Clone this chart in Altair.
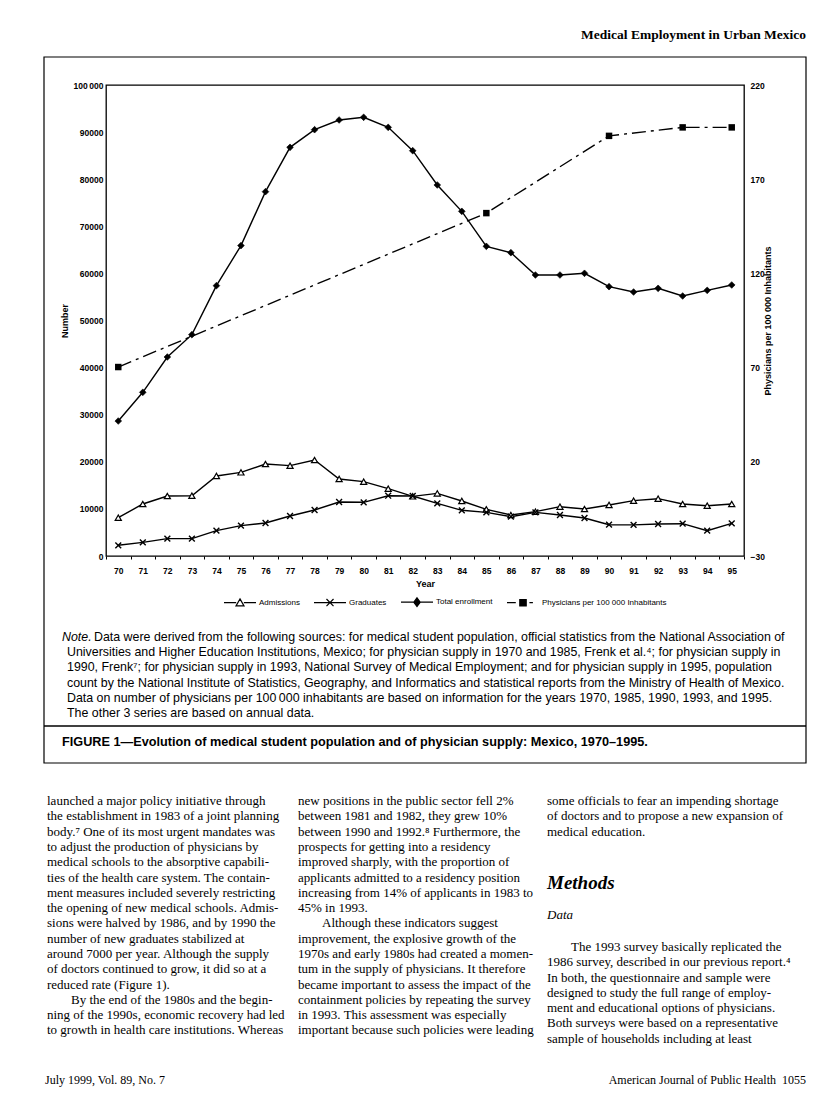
import altair as alt
import pandas as pd

# ---------------- data ----------------
YEARS = [str(y) for y in range(70, 96)]
ADMISSIONS = [8130, 11040, 12740, 12800, 16990, 17760, 19530, 19180, 20380, 16350,
              15780, 14290, 12670, 13300, 11680, 9910, 8700, 9410, 10470, 9980,
              10830, 11750, 12170, 11040, 10680, 11040]
GRADUATES = [2270, 2900, 3680, 3680, 5380, 6440, 7000, 8490, 9770, 11460,
             11400, 12800, 12740, 11180, 9700, 9270, 8350, 9270, 8700, 8070,
             6650, 6600, 6790, 6860, 5380, 6940]
ENROLLMENT = [28660, 34750, 42250, 46990, 57400, 65900, 77350, 86770, 90510, 92570,
              93140, 91010, 86050, 78770, 73180, 65750, 64400, 59660, 59660, 60020,
              57180, 56050, 56830, 55200, 56400, 57540]
PHYS_YEARS = ["70", "85", "90", "93", "95"]
PHYSICIANS = [70.3, 152, 193, 197.5, 197.5]
SERIES = ["Admissions", "Graduates", "Total enrollment",
          "Physicians per 100 000 Inhabitants"]
LEFT_TICKS = [0, 10000, 20000, 30000, 40000, 50000, 60000, 70000, 80000, 90000, 100000]
RIGHT_TICKS = [-30, 20, 70, 120, 170, 220]

HEADER = "Medical Employment in Urban Mexico"
NOTE_LEAD = "Note."
NOTE_FIRST = ("Data were derived from the following sources: for medical student population, "
              "official statistics from the National Association of")
NOTE_REST = [
    "Universities and Higher Education Institutions, Mexico; for physician supply in 1970 and 1985, Frenk et al.\u2074; for physician supply in",
    "1990, Frenk\u2077; for physician supply in 1993, National Survey of Medical Employment; and for physician supply in 1995, population",
    "count by the National Institute of Statistics, Geography, and Informatics and statistical reports from the Ministry of Health of Mexico.",
    "Data on number of physicians per 100\u2009000 inhabitants are based on information for the years 1970, 1985, 1990, 1993, and 1995.",
    "The other 3 series are based on annual data.",
]
CAPTION = "FIGURE 1\u2014Evolution of medical student population and of physician supply: Mexico, 1970\u20131995."

COL1_A = [
    "launched a major policy initiative through",
    "the establishment in 1983 of a joint planning",
    "body.\u2077 One of its most urgent mandates was",
    "to adjust the production of physicians by",
    "medical schools to the absorptive capabili-",
    "ties of the health care system. The contain-",
    "ment measures included severely restricting",
    "the opening of new medical schools. Admis-",
    "sions were halved by 1986, and by 1990 the",
    "number of new graduates stabilized at",
    "around 7000 per year. Although the supply",
    "of doctors continued to grow, it did so at a",
    "reduced rate (Figure 1).",
]
COL1_B_FIRST = "By the end of the 1980s and the begin-"
COL1_B = [
    "ning of the 1990s, economic recovery had led",
    "to growth in health care institutions. Whereas",
]
COL2_A = [
    "new positions in the public sector fell 2%",
    "between 1981 and 1982, they grew 10%",
    "between 1990 and 1992.\u2078 Furthermore, the",
    "prospects for getting into a residency",
    "improved sharply, with the proportion of",
    "applicants admitted to a residency position",
    "increasing from 14% of applicants in 1983 to",
    "45% in 1993.",
]
COL2_B_FIRST = "Although these indicators suggest"
COL2_B = [
    "improvement, the explosive growth of the",
    "1970s and early 1980s had created a momen-",
    "tum in the supply of physicians. It therefore",
    "became important to assess the impact of the",
    "containment policies by repeating the survey",
    "in 1993. This assessment was especially",
    "important because such policies were leading",
]
COL3_A = [
    "some officials to fear an impending shortage",
    "of doctors and to propose a new expansion of",
    "medical education.",
]
COL3_HEAD = "Methods"
COL3_SUB = "Data"
COL3_B_FIRST = "The 1993 survey basically replicated the"
COL3_B = [
    "1986 survey, described in our previous report.\u2074",
    "In both, the questionnaire and sample were",
    "designed to study the full range of employ-",
    "ment and educational options of physicians.",
    "Both surveys were based on a representative",
    "sample of households including at least",
]
FOOT_LEFT = "July 1999, Vol. 89, No. 7"
FOOT_RIGHT = "American Journal of Public Health"
FOOT_PAGE = "1055"

# ---------------- styling ----------------
SANS = "Liberation Sans"
SERIF = "Liberation Serif"
PW, PH = 638, 471
OX, OY = 106, 85  # plot origin on page

X_PATH = "M-1,-1L1,1M-1,1L1,-1"
LEG_PATHS = [
    "M-1,0H-0.24M0.24,0H1M0,-0.24L0.25,0.2L-0.25,0.2Z",
    "M-1,0H1M-0.22,-0.22L0.22,0.22M-0.22,0.22L0.22,-0.22",
    "M-1,0H1M0,-0.27L0.2,0L0,0.27L-0.2,0Z",
    "M-1,0H-0.45M-0.2,-0.2H0.2V0.2H-0.2ZM0.4,0H0.62",
]

left_df = pd.DataFrame({
    "year": YEARS * 3,
    "value": ADMISSIONS + GRADUATES + ENROLLMENT,
    "series": [SERIES[0]] * len(YEARS) + [SERIES[1]] * len(YEARS) + [SERIES[2]] * len(YEARS),
})
phys_df = pd.DataFrame({"year": PHYS_YEARS, "value": PHYSICIANS, "series": SERIES[3]})
legend_df = pd.DataFrame({"year": [YEARS[0]] * 4, "value": [-1e7] * 4, "series": SERIES})

x_enc = alt.X(
    "year:O",
    scale=alt.Scale(type="band", domain=YEARS, paddingInner=0, paddingOuter=0),
    axis=alt.Axis(title="Year", labelAngle=0, labelPadding=7, tickBand="extent",
                  tickSize=3, ticks=True, labelFontSize=8.5, labelFontWeight="bold",
                  titleFontSize=9, titleFontWeight="bold", titlePadding=5),
)
y_left = alt.Y(
    "value:Q",
    scale=alt.Scale(domain=[0, 100000], nice=False, zero=False),
    axis=alt.Axis(title="Number", values=LEFT_TICKS, ticks=False, labelPadding=3,
                  labelExpr="datum.value >= 100000 ? '100\u2009000' : format(datum.value, 'd')",
                  labelFontSize=8.5, labelFontWeight="bold", titleFontSize=9,
                  titleFontWeight="bold", titlePadding=3),
)
y_right = alt.Y(
    "value:Q",
    scale=alt.Scale(domain=[-30, 220], nice=False, zero=False),
    axis=alt.Axis(orient="right", title=SERIES[3], values=RIGHT_TICKS, ticks=False,
                  labelPadding=6, labelFontSize=8.5, labelFontWeight="bold",
                  titleFontSize=9, titleFontWeight="bold", titleAngle=270,
                  titlePadding=8),
)

lines = alt.Chart(left_df).mark_line(color="black", strokeWidth=1.4).encode(
    x=x_enc, y=y_left, detail="series:N")


def markers(name, **kw):
    return alt.Chart(left_df).transform_filter(alt.datum.series == name).mark_point(
        opacity=1, stroke="black", **kw).encode(x=x_enc, y=y_left)


pts_adm = markers(SERIES[0], shape="triangle-up", size=38, filled=True, fill="white", strokeWidth=1.2)
pts_grad = markers(SERIES[1], shape=X_PATH, size=34, strokeWidth=1.4)
pts_enr = markers(SERIES[2], shape="diamond", size=45, filled=True, fill="black", strokeWidth=0.6)

leg = alt.Legend(orient="none", legendX=117, legendY=500, direction="horizontal", title=None,
                 symbolSize=1024, symbolStrokeWidth=1.2, symbolStrokeColor="black",
                 symbolOpacity=1, labelFont=SANS, labelFontSize=8, labelColor="black",
                 labelOffset=2, columnPadding=11)
legend_layer = alt.Chart(legend_df).mark_point(size=1024, clip=True, strokeWidth=1.2,
                                                opacity=1).encode(
    x=x_enc, y=y_left,
    shape=alt.Shape("series:N", scale=alt.Scale(domain=SERIES, range=LEG_PATHS), legend=leg),
    fill=alt.Fill("series:N", scale=alt.Scale(domain=SERIES, range=["white", "white", "black", "black"]), legend=leg),
    stroke=alt.Stroke("series:N", scale=alt.Scale(domain=SERIES, range=["black", "black", "black", "black"]), legend=leg),
)

phys_line = alt.Chart(phys_df).mark_line(color="black", strokeWidth=1.4,
                                         strokeDash=[14, 5, 3, 5]).encode(x=x_enc, y=y_right)
phys_pts = alt.Chart(phys_df).mark_point(shape="square", size=42, filled=True, color="black",
                                        opacity=1).encode(x=x_enc, y=y_right)

left_layer = alt.layer(lines, pts_adm, pts_grad, pts_enr, legend_layer)
right_layer = alt.layer(phys_line, phys_pts)

BLANK = alt.Data(values=[{}])


def txt(text, x, y, size=13, font=SERIF, weight="normal", style="normal", align="left", lh=15.3):
    return alt.Chart(BLANK).mark_text(
        text=text, font=font, fontSize=size, fontWeight=weight, fontStyle=style,
        align=align, baseline="alphabetic", lineHeight=lh, color="black",
    ).encode(x=alt.value(x - OX), y=alt.value(y - OY))


box = alt.Chart(BLANK).mark_rect(fillOpacity=0, stroke="black", strokeWidth=1.2).encode(
    x=alt.value(44 - OX), x2=alt.value(806 - OX), y=alt.value(57 - OY), y2=alt.value(763 - OY))
rule = alt.Chart(BLANK).mark_rule(color="black", strokeWidth=1.5).encode(
    x=alt.value(44 - OX), x2=alt.value(806 - OX), y=alt.value(726 - OY))

deco = [
    box, rule,
    txt(HEADER, 806, 39, size=13.5, weight="bold", align="right"),
    txt(NOTE_LEAD, 62, 641, size=12.4, font=SANS, style="italic"),
    txt(NOTE_FIRST, 94, 641, size=12.4, font=SANS),
    txt(NOTE_REST, 67, 656.2, size=12.4, font=SANS, lh=15.2),
    txt(CAPTION, 62, 746, size=12.7, font=SANS, weight="bold"),
    txt(COL1_A, 47, 805),
    txt(COL1_B_FIRST, 71, 805 + 13 * 15.3),
    txt(COL1_B, 47, 805 + 14 * 15.3),
    txt(COL2_A, 298, 805),
    txt(COL2_B_FIRST, 322, 805 + 8 * 15.3),
    txt(COL2_B, 298, 805 + 9 * 15.3),
    txt(COL3_A, 547, 805),
    txt(COL3_HEAD, 547, 889, size=19, weight="bold", style="italic"),
    txt(COL3_SUB, 547, 919, style="italic"),
    txt(COL3_B_FIRST, 571, 951),
    txt(COL3_B, 547, 951 + 15.3),
    txt(FOOT_LEFT, 45, 1084, size=12),
    txt(FOOT_RIGHT, 776, 1084, size=12, align="right"),
    txt(FOOT_PAGE, 806, 1084, size=12, align="right"),
]

chart = alt.layer(left_layer, right_layer, *deco).resolve_scale(y="independent").properties(
    width=PW, height=PH,
    padding={"left": OX - 8, "top": OY - 8, "right": 800 - (OX - 8) - PW, "bottom": 1090 - (OY - 8) - PH},
    autosize=alt.AutoSizeParams(type="none"),
    background="white",
).configure_view(stroke="black", strokeWidth=1.3).configure_axis(
    labelFont=SANS, titleFont=SANS, labelColor="black", titleColor="black",
    grid=False, domain=False, tickColor="black",
)

chart.save("out.html", embed_options={"renderer": "svg", "actions": False})
